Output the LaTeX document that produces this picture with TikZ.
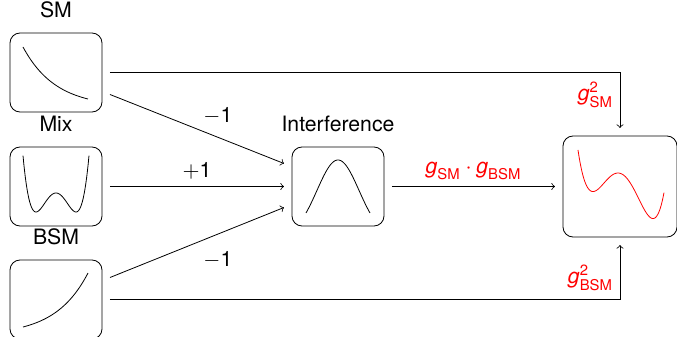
\documentclass[tikz,border=0pt]{standalone}
\usepackage{fontspec}
\setmainfont{TeX Gyre Heros}
\usepackage{amsmath}

\begin{document}
\begin{tikzpicture}[x=0.5pt, y=-0.5pt, font=\fontsize{10.6}{12.7}\selectfont,
        box/.style={draw, rounded corners=5pt, minimum width=46pt, minimum height=39.5pt, outer sep=4pt},
        wt/.style={text=red},
        declare function={gres(\s)=\s*\s*\s*\s/4-13*\s*\s*\s/3+23.625*\s*\s-45*\s;
            well(\s)=(\s*\s-4)*(\s*\s-4);}]
        \useasboundingbox (0,0) rectangle (677,337);

        \foreach \n/\lbl/\y in {sm/SM/72.5, mix/Mix/186.5, bsm/BSM/299.5}
            \node[box, label=above:\lbl] (\n) at (56,\y) {};
        \node[box, label=above:Interference] (int) at (338,186.5) {};
        \node[box, minimum width=57pt, minimum height=50.5pt] (res) at (620,186.5) {};

        \draw[domain=23:88, samples=60] plot (\x, {47 + 52*(1-exp(-2*(\x-23)/65))/(1-exp(-2))});
        \draw[domain=23:89, samples=80] plot (\x, {212 - 1.1875*well((\x-56)/10)});
        \draw[domain=23:88, samples=60] plot (\x, {327 - 54*(exp(2*(\x-23)/65)-1)/(exp(2)-1)});
        \draw[domain=306:370, samples=80] plot (\x, {213 - 53*(exp(-0.5*((\x-338)/21)*((\x-338)/21)) - 0.313)/0.687});
        \draw[red, domain=578:664, samples=100] plot (\x, {150 - 1.5*gres((\x-578)/10)});

        \draw[->] (sm.east) -| node[wt, pos=0.7, left] {$\textit{g}^{\text{2}}_{\text{SM}}$} (res.north);
        \draw[->] (bsm.east) -| node[wt, pos=0.7, left] {$\textit{g}^{\text{2}}_{\text{BSM}}$} (res.south);
        \draw[->] ([yshift=-11pt]sm.east) -- node[pos=0.62, above=3pt] {$-$1} ([yshift=11.5pt]int.west);
        \draw[->] (mix) -- node[above] {$+$1} (int);
        \draw[->] ([yshift=11pt]bsm.east) -- node[pos=0.62, below=5pt] {$-$1} ([yshift=-10.5pt]int.west);
        \draw[->] (int) -- node[wt, above] {$\textit{g}_{\text{SM}}\cdot\textit{g}_{\text{BSM}}$} (res);
    \end{tikzpicture}
\end{document}
